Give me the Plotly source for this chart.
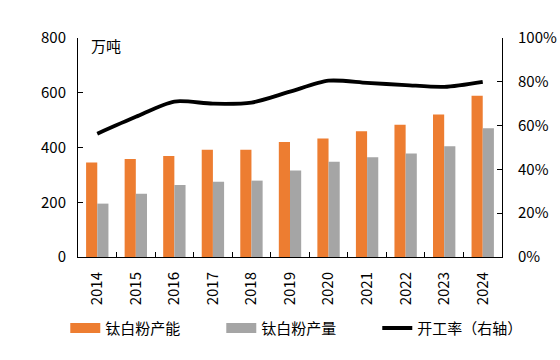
import plotly.graph_objects as go

years = ["2014", "2015", "2016", "2017", "2018", "2019", "2020", "2021", "2022", "2023", "2024"]
capacity = [345, 358, 369, 392, 392, 420, 433, 459, 483, 521, 589]
output = [195, 231, 263, 275, 279, 316, 348, 364, 378, 405, 470]
utilization = [0.563, 0.64, 0.71, 0.70, 0.705, 0.755, 0.805, 0.795, 0.785, 0.777, 0.80]

FONT = "Noto Sans CJK SC, Noto Sans, sans-serif"
ORANGE = "#ED7D31"
GRAY = "#A5A5A5"

fig = go.Figure()
fig.add_trace(go.Bar(x=years, y=capacity, name="钛白粉产能", showlegend=False,
                     marker=dict(color=ORANGE, line=dict(width=0))))
fig.add_trace(go.Bar(x=years, y=output, name="钛白粉产量", showlegend=False,
                     marker=dict(color=GRAY, line=dict(width=0))))
fig.add_trace(go.Scatter(x=years, y=utilization, name="开工率（右轴）", mode="lines", showlegend=False,
                         line=dict(color="black", width=3.8, shape="spline", smoothing=0.8), yaxis="y2"))
# legend entries (wide swatches like the original)
fig.add_trace(go.Scatter(x=[None], y=[None], name="钛白粉产能", mode="lines",
                         line=dict(color=ORANGE, width=10)))
fig.add_trace(go.Scatter(x=[None], y=[None], name="钛白粉产量", mode="lines",
                         line=dict(color=GRAY, width=10)))
fig.add_trace(go.Scatter(x=[None], y=[None], name="开工率（右轴）", mode="lines",
                         line=dict(color="black", width=3.8)))

fig.update_layout(
    width=560, height=360,
    margin=dict(l=78, r=58, t=38, b=103, autoexpand=False),
    paper_bgcolor="white", plot_bgcolor="white",
    font=dict(family=FONT, size=15, color="#000000"),
    barmode="group", bargap=0.42, bargroupgap=0,
    showlegend=True,
    legend=dict(orientation="h", x=-0.03, xanchor="left", y=-0.25, yanchor="top",
                font=dict(size=15), itemwidth=30, entrywidth=111, entrywidthmode="pixels",
                tracegroupgap=0),
    xaxis=dict(type="category", showline=True, linecolor="black", linewidth=1,
               ticks="inside", ticklen=5, tickcolor="black", tickson="boundaries",
               tickangle=-90, tickfont=dict(size=15), showgrid=False, automargin=False,
               ticklabelstandoff=8),
    yaxis=dict(range=[0, 800], dtick=200, showline=True, linecolor="black", linewidth=1,
               ticks="inside", ticklen=5, tickcolor="black", showgrid=False, zeroline=False,
               ticklabelstandoff=8, tickfont=dict(size=15), automargin=False),
    yaxis2=dict(range=[0, 1], dtick=0.2, tickformat=".0%", overlaying="y", side="right",
                showline=True, linecolor="black", linewidth=1, ticks="inside", ticklen=5,
                tickcolor="black", showgrid=False, zeroline=False, ticklabelstandoff=12,
                tickfont=dict(size=15), automargin=False),
    annotations=[dict(text="万吨", x=0.025, y=1.025, xref="paper", yref="paper",
                      xanchor="left", yanchor="top", showarrow=False, font=dict(size=15))],
)

fig.write_html("out.html", config={"displayModeBar": False},
               post_script="document.body.style.margin='0';document.body.style.overflow='hidden';")
